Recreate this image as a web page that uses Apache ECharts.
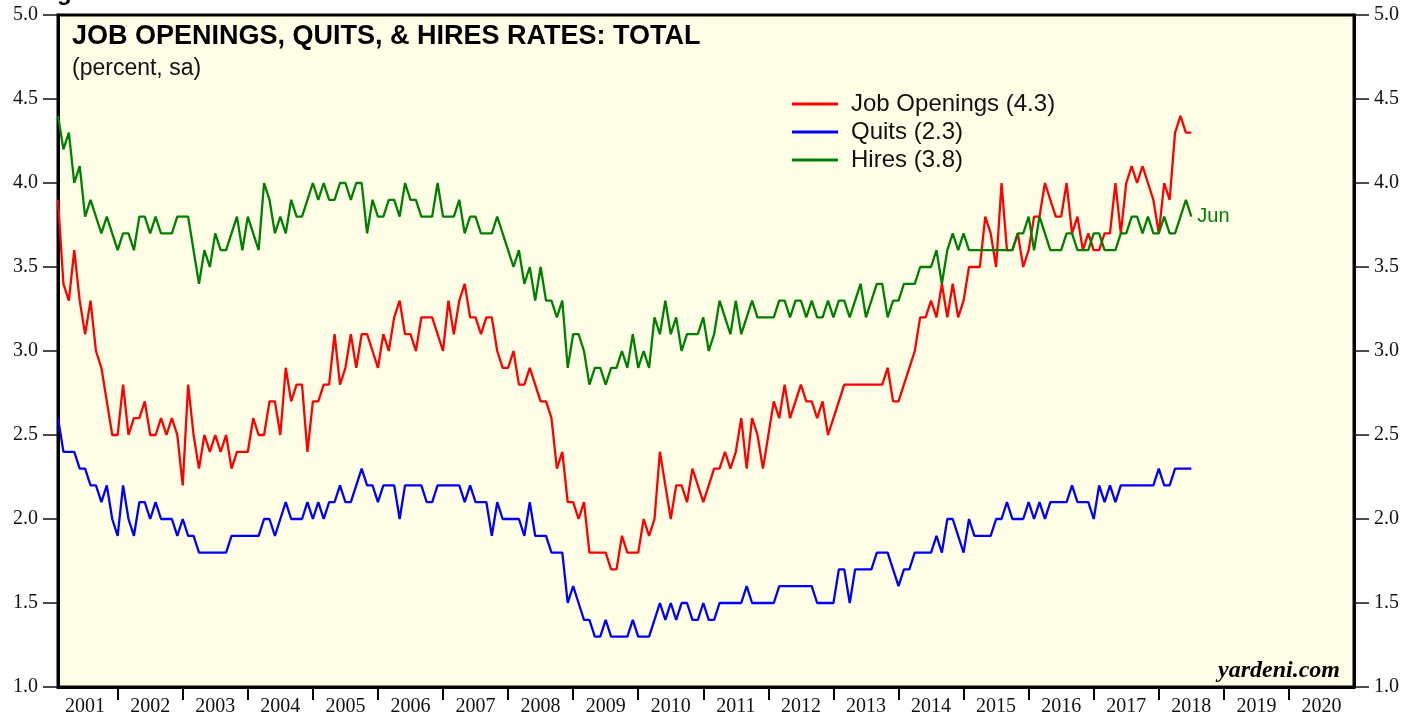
<!DOCTYPE html>
<html>
<head>
<meta charset="utf-8">
<title>Job Openings, Quits & Hires Rates</title>
<script src="https://cdn.jsdelivr.net/npm/echarts@6/dist/echarts.min.js"></script>
<style>
  html, body { margin: 0; padding: 0; background: #fff; }
  #chart { width: 1419px; height: 721px; }
</style>
</head>
<body>
<div id="chart"></div>
<script>
// monthly rates, Jan 2001 .. Jun 2018 (percent, sa)
const jobOpenings = [
  3.9, 3.4, 3.3, 3.6, 3.3, 3.1, 3.3, 3.0, 2.9, 2.7, 2.5, 2.5,
  2.8, 2.5, 2.6, 2.6, 2.7, 2.5, 2.5, 2.6, 2.5, 2.6, 2.5, 2.2,
  2.8, 2.5, 2.3, 2.5, 2.4, 2.5, 2.4, 2.5, 2.3, 2.4, 2.4, 2.4,
  2.6, 2.5, 2.5, 2.7, 2.7, 2.5, 2.9, 2.7, 2.8, 2.8, 2.4, 2.7,
  2.7, 2.8, 2.8, 3.1, 2.8, 2.9, 3.1, 2.9, 3.1, 3.1, 3.0, 2.9,
  3.1, 3.0, 3.2, 3.3, 3.1, 3.1, 3.0, 3.2, 3.2, 3.2, 3.1, 3.0,
  3.3, 3.1, 3.3, 3.4, 3.2, 3.2, 3.1, 3.2, 3.2, 3.0, 2.9, 2.9,
  3.0, 2.8, 2.8, 2.9, 2.8, 2.7, 2.7, 2.6, 2.3, 2.4, 2.1, 2.1,
  2.0, 2.1, 1.8, 1.8, 1.8, 1.8, 1.7, 1.7, 1.9, 1.8, 1.8, 1.8,
  2.0, 1.9, 2.0, 2.4, 2.2, 2.0, 2.2, 2.2, 2.1, 2.3, 2.2, 2.1,
  2.2, 2.3, 2.3, 2.4, 2.3, 2.4, 2.6, 2.3, 2.6, 2.5, 2.3, 2.5,
  2.7, 2.6, 2.8, 2.6, 2.7, 2.8, 2.7, 2.7, 2.6, 2.7, 2.5, 2.6,
  2.7, 2.8, 2.8, 2.8, 2.8, 2.8, 2.8, 2.8, 2.8, 2.9, 2.7, 2.7,
  2.8, 2.9, 3.0, 3.2, 3.2, 3.3, 3.2, 3.4, 3.2, 3.4, 3.2, 3.3,
  3.5, 3.5, 3.5, 3.8, 3.7, 3.5, 4.0, 3.6, 3.6, 3.7, 3.5, 3.6,
  3.8, 3.8, 4.0, 3.9, 3.8, 3.8, 4.0, 3.7, 3.8, 3.6, 3.7, 3.6,
  3.6, 3.7, 3.7, 4.0, 3.7, 4.0, 4.1, 4.0, 4.1, 4.0, 3.9, 3.7,
  4.0, 3.9, 4.3, 4.4, 4.3, 4.3
];
const quits = [
  2.6, 2.4, 2.4, 2.4, 2.3, 2.3, 2.2, 2.2, 2.1, 2.2, 2.0, 1.9,
  2.2, 2.0, 1.9, 2.1, 2.1, 2.0, 2.1, 2.0, 2.0, 2.0, 1.9, 2.0,
  1.9, 1.9, 1.8, 1.8, 1.8, 1.8, 1.8, 1.8, 1.9, 1.9, 1.9, 1.9,
  1.9, 1.9, 2.0, 2.0, 1.9, 2.0, 2.1, 2.0, 2.0, 2.0, 2.1, 2.0,
  2.1, 2.0, 2.1, 2.1, 2.2, 2.1, 2.1, 2.2, 2.3, 2.2, 2.2, 2.1,
  2.2, 2.2, 2.2, 2.0, 2.2, 2.2, 2.2, 2.2, 2.1, 2.1, 2.2, 2.2,
  2.2, 2.2, 2.2, 2.1, 2.2, 2.1, 2.1, 2.1, 1.9, 2.1, 2.0, 2.0,
  2.0, 2.0, 1.9, 2.1, 1.9, 1.9, 1.9, 1.8, 1.8, 1.8, 1.5, 1.6,
  1.5, 1.4, 1.4, 1.3, 1.3, 1.4, 1.3, 1.3, 1.3, 1.3, 1.4, 1.3,
  1.3, 1.3, 1.4, 1.5, 1.4, 1.5, 1.4, 1.5, 1.5, 1.4, 1.4, 1.5,
  1.4, 1.4, 1.5, 1.5, 1.5, 1.5, 1.5, 1.6, 1.5, 1.5, 1.5, 1.5,
  1.5, 1.6, 1.6, 1.6, 1.6, 1.6, 1.6, 1.6, 1.5, 1.5, 1.5, 1.5,
  1.7, 1.7, 1.5, 1.7, 1.7, 1.7, 1.7, 1.8, 1.8, 1.8, 1.7, 1.6,
  1.7, 1.7, 1.8, 1.8, 1.8, 1.8, 1.9, 1.8, 2.0, 2.0, 1.9, 1.8,
  2.0, 1.9, 1.9, 1.9, 1.9, 2.0, 2.0, 2.1, 2.0, 2.0, 2.0, 2.1,
  2.0, 2.1, 2.0, 2.1, 2.1, 2.1, 2.1, 2.2, 2.1, 2.1, 2.1, 2.0,
  2.2, 2.1, 2.2, 2.1, 2.2, 2.2, 2.2, 2.2, 2.2, 2.2, 2.2, 2.3,
  2.2, 2.2, 2.3, 2.3, 2.3, 2.3
];
const hires = [
  4.4, 4.2, 4.3, 4.0, 4.1, 3.8, 3.9, 3.8, 3.7, 3.8, 3.7, 3.6,
  3.7, 3.7, 3.6, 3.8, 3.8, 3.7, 3.8, 3.7, 3.7, 3.7, 3.8, 3.8,
  3.8, 3.6, 3.4, 3.6, 3.5, 3.7, 3.6, 3.6, 3.7, 3.8, 3.6, 3.8,
  3.7, 3.6, 4.0, 3.9, 3.7, 3.8, 3.7, 3.9, 3.8, 3.8, 3.9, 4.0,
  3.9, 4.0, 3.9, 3.9, 4.0, 4.0, 3.9, 4.0, 4.0, 3.7, 3.9, 3.8,
  3.8, 3.9, 3.9, 3.8, 4.0, 3.9, 3.9, 3.8, 3.8, 3.8, 4.0, 3.8,
  3.8, 3.8, 3.9, 3.7, 3.8, 3.8, 3.7, 3.7, 3.7, 3.8, 3.7, 3.6,
  3.5, 3.6, 3.4, 3.5, 3.3, 3.5, 3.3, 3.3, 3.2, 3.3, 2.9, 3.1,
  3.1, 3.0, 2.8, 2.9, 2.9, 2.8, 2.9, 2.9, 3.0, 2.9, 3.1, 2.9,
  3.0, 2.9, 3.2, 3.1, 3.3, 3.1, 3.2, 3.0, 3.1, 3.1, 3.1, 3.2,
  3.0, 3.1, 3.3, 3.2, 3.1, 3.3, 3.1, 3.2, 3.3, 3.2, 3.2, 3.2,
  3.2, 3.3, 3.3, 3.2, 3.3, 3.3, 3.2, 3.3, 3.2, 3.2, 3.3, 3.2,
  3.3, 3.3, 3.2, 3.3, 3.4, 3.2, 3.3, 3.4, 3.4, 3.2, 3.3, 3.3,
  3.4, 3.4, 3.4, 3.5, 3.5, 3.5, 3.6, 3.4, 3.6, 3.7, 3.6, 3.7,
  3.6, 3.6, 3.6, 3.6, 3.6, 3.6, 3.6, 3.6, 3.6, 3.7, 3.7, 3.8,
  3.6, 3.8, 3.7, 3.6, 3.6, 3.6, 3.7, 3.7, 3.6, 3.6, 3.6, 3.7,
  3.7, 3.6, 3.6, 3.6, 3.7, 3.7, 3.8, 3.8, 3.7, 3.8, 3.7, 3.7,
  3.8, 3.7, 3.7, 3.8, 3.9, 3.8
];

const years = ['2001', '2002', '2003', '2004', '2005', '2006', '2007', '2008', '2009', '2010',
  '2011', '2012', '2013', '2014', '2015', '2016', '2017', '2018', '2019', '2020'];

// x = months since Jan 2001, each value plotted at month end
const toPoints = arr => arr.map((v, i) => [i + 1, v]);
const yearTicks = years.slice(1).map((y, k) => (k + 1) * 12);
const yearMids = years.map((y, k) => k * 12 + 6);

const serif = '"Liberation Serif", "Times New Roman", serif';
const sans = '"Liberation Sans", Arial, Helvetica, sans-serif';

const chart = echarts.init(document.getElementById('chart'));

const yAxisBase = {
    type: 'value',
    min: 1,
    max: 5,
    interval: 0.5,
    splitLine: { show: false },
    axisLine: { show: true, lineStyle: { color: '#000', width: 3 } },
    axisTick: { show: true, length: 15, lineStyle: { color: '#111', width: 1.5 } },
    axisLabel: {
        margin: 20,
        fontFamily: serif,
        fontSize: 20,
        color: '#111',
        formatter: v => v.toFixed(1)
    }
};

const option = {
    backgroundColor: '#fff',
    animation: false,
    grid: {
        left: 58, right: 65, top: 15, bottom: 34,
        show: true,
        backgroundColor: '#fefee6',
        borderColor: '#000',
        borderWidth: 3
    },
    legend: {
        orient: 'vertical',
        left: 787,
        top: 87,
        icon: 'rect',
        itemWidth: 46,
        itemHeight: 3,
        itemGap: 4,
        textStyle: { fontFamily: sans, fontSize: 24, color: '#111', padding: [0, 0, 0, 8] },
        data: ['Job Openings (4.3)', 'Quits (2.3)', 'Hires (3.8)']
    },
    xAxis: {
        type: 'value',
        min: 1,
        max: 240,
        splitLine: { show: false },
        axisLine: { show: true, lineStyle: { color: '#000', width: 3 } },
        axisTick: { show: true, customValues: yearTicks, length: 13, lineStyle: { color: '#000', width: 2 } },
        axisLabel: {
            customValues: yearMids,
            margin: 10,
            fontFamily: serif,
            fontSize: 20,
            color: '#111',
            formatter: v => years[Math.round((v - 6) / 12)]
        }
    },
    yAxis: [
        Object.assign({}, yAxisBase, { position: 'left' }),
        Object.assign({}, yAxisBase, { position: 'right' })
    ],
    graphic: [
        {
            type: 'text', left: 57, top: -19,
            style: { text: 'g', font: 'bold 24px ' + sans, fill: '#000' }
        },
        {
            type: 'text', left: 72, top: 23,
            style: { text: 'JOB OPENINGS, QUITS, & HIRES RATES: TOTAL', font: 'bold 27px ' + sans, fill: '#000' }
        },
        {
            type: 'text', left: 72, top: 57,
            style: { text: '(percent, sa)', font: '23px ' + sans, fill: '#111' }
        },
        {
            type: 'text', right: 79, top: 659,
            style: { text: 'yardeni.com', font: 'italic bold 24px ' + serif, fill: '#000' }
        }
    ],
    series: [
        {
            name: 'Job Openings (4.3)',
            type: 'line',
            data: toPoints(jobOpenings),
            showSymbol: false,
            lineStyle: { color: '#ff0000', width: 2.3 },
            itemStyle: { color: '#ff0000' }
        },
        {
            name: 'Quits (2.3)',
            type: 'line',
            data: toPoints(quits),
            showSymbol: false,
            lineStyle: { color: '#0000ff', width: 2.3 },
            itemStyle: { color: '#0000ff' }
        },
        {
            name: 'Hires (3.8)',
            type: 'line',
            data: toPoints(hires),
            showSymbol: false,
            lineStyle: { color: '#008000', width: 2.3 },
            itemStyle: { color: '#008000' },
            endLabel: {
                show: true,
                formatter: 'Jun',
                distance: 6,
                fontFamily: sans,
                fontSize: 20,
                color: '#008000'
            }
        }
    ]
};

chart.setOption(option);
</script>
</body>
</html>
